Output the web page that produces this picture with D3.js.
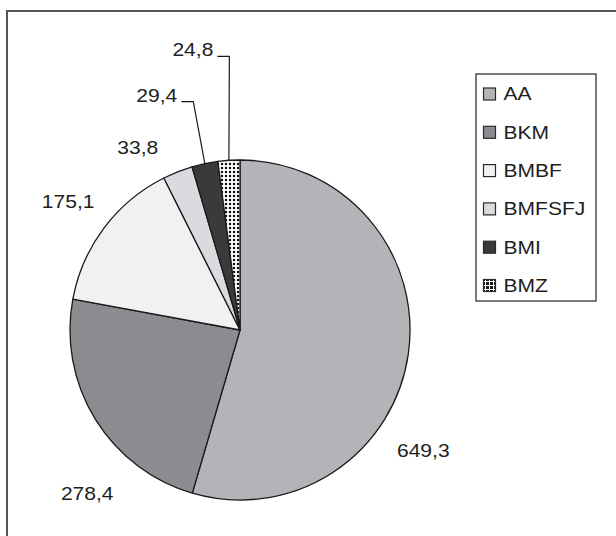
<!DOCTYPE html>
<html>
<head>
<meta charset="utf-8">
<script src="https://cdn.jsdelivr.net/npm/d3@7"></script>
<style>
  html, body { margin: 0; padding: 0; background: #fff; }
  svg { display: block; }
  text { font-family: "Liberation Sans", Arial, sans-serif; fill: #1e1e1e; }
</style>
</head>
<body>
<svg id="chart" width="616" height="536"></svg>
<script>
// ---- data ----
const categories = ["AA", "BKM", "BMBF", "BMFSFJ", "BMI", "BMZ"];
const values = [649.3, 278.4, 175.1, 33.8, 29.4, 24.8];

// ---- styles / layout (not data) ----
const fills = ["#b3b4b8", "#8b8c90", "#f0f1f3", "#dadbde", "#3a3a3a", "url(#dots)"];
const legendFills = ["#b3b4b8", "#8b8c90", "#f0f1f3", "#dadbde", "#3a3a3a", "url(#grid)"];
// label nudges relative to the slice's outer mid-point
const labelNudge = [[15, 103], [-8, 81], [-36, -20], [-40, -18], [-48, -62], [-36, -104]];
const hasLeader = [false, false, false, false, true, true];

const W = 616, H = 536;
const cx = 240, cy = 330, R = 170;
const fontSize = 18, stretch = 1.17;

const locale = d3.formatLocale({decimal: ",", thousands: ".", grouping: [3], currency: ["", ""]});
const fmt = locale.format(".1f");

const svg = d3.select("#chart");
const defs = svg.append("defs");

const dots = defs.append("pattern").attr("id", "dots")
  .attr("patternUnits", "userSpaceOnUse").attr("width", 4).attr("height", 4);
dots.append("rect").attr("width", 4).attr("height", 4).attr("fill", "#fff");
dots.append("circle").attr("cx", 2).attr("cy", 2).attr("r", 1.25).attr("fill", "#111");

const grid = defs.append("pattern").attr("id", "grid")
  .attr("patternUnits", "userSpaceOnUse").attr("width", 4).attr("height", 4);
grid.append("rect").attr("width", 4).attr("height", 4).attr("fill", "#1a1a1a");
grid.append("rect").attr("x", 0).attr("y", 1).attr("width", 4).attr("height", 1).attr("fill", "#fff");
grid.append("rect").attr("x", 1).attr("y", 0).attr("width", 1).attr("height", 4).attr("fill", "#fff");

// frame (extends beyond the canvas on right/bottom)
svg.append("rect").attr("x", 7).attr("y", 11).attr("width", 800).attr("height", 800)
  .attr("fill", "none").attr("stroke", "#555").attr("stroke-width", 2);

const pie = d3.pie().sort(null).value(d => d);
const arcs = pie(values);
const arc = d3.arc().innerRadius(0).outerRadius(R);
const edgeArc = d3.arc().innerRadius(R).outerRadius(R);

const g = svg.append("g").attr("transform", `translate(${cx},${cy})`);
g.selectAll("path.slice").data(arcs).join("path")
  .attr("class", "slice")
  .attr("d", arc)
  .attr("fill", (d, i) => fills[i])
  .attr("stroke", "#1a1a1a")
  .attr("stroke-width", 1.3)
  .attr("stroke-linejoin", "round");

// labels
arcs.forEach((d, i) => {
  const [px, py] = edgeArc.centroid(d);
  const lx = px + labelNudge[i][0], ly = py + labelNudge[i][1];
  const t = g.append("text")
    .attr("transform", `translate(${lx},${ly}) scale(${stretch},1)`)
    .attr("text-anchor", "middle")
    .attr("font-size", fontSize)
    .text(fmt(values[i]));
  if (hasLeader[i]) {
    const w = t.node().getComputedTextLength() * stretch;
    const x0 = lx + w / 2 + 4;
    const ex = x0 + 12;
    g.append("path")
      .attr("d", d3.line()([[x0, ly], [ex, ly], [px, py]]))
      .attr("fill", "none").attr("stroke", "#1a1a1a").attr("stroke-width", 1.2);
  }
});

// legend
const lg = svg.append("g");
lg.append("rect").attr("x", 476).attr("y", 74).attr("width", 120).attr("height", 227)
  .attr("fill", "#fff").attr("stroke", "#333").attr("stroke-width", 1.3);
const ly0 = 94, lstep = 38.3;
categories.forEach((c, i) => {
  const y = ly0 + i * lstep;
  lg.append("rect").attr("x", 483.5).attr("y", y - 6).attr("width", 12).attr("height", 12)
    .attr("fill", legendFills[i]).attr("stroke", "#2a2a2a").attr("stroke-width", 1.2);
  lg.append("text")
    .attr("transform", `translate(503.5,${y + 6.3}) scale(${stretch},1)`)
    .attr("font-size", fontSize)
    .text(c);
});
</script>
</body>
</html>
